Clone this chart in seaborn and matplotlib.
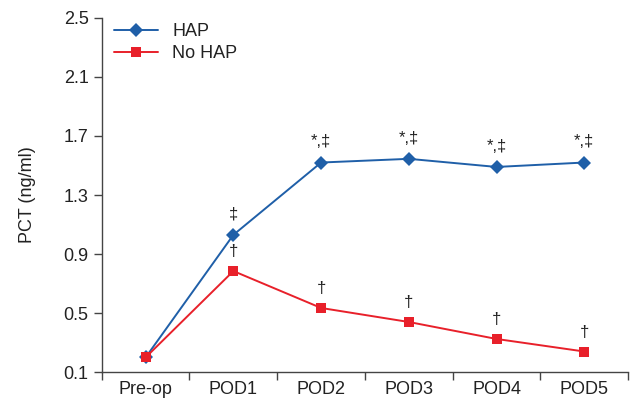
import pandas as pd
import numpy as np
import matplotlib
matplotlib.use("Agg")
import matplotlib.pyplot as plt
import seaborn as sns
from matplotlib.ticker import FixedLocator

# data
days = ["Pre-op", "POD1", "POD2", "POD3", "POD4", "POD5"]
hap = [0.20, 1.03, 1.52, 1.545, 1.49, 1.52]
no_hap = [0.20, 0.785, 0.535, 0.44, 0.325, 0.24]
hap_marks = ["", "\u2021", "*,\u2021", "*,\u2021", "*,\u2021", "*,\u2021"]
no_hap_marks = ["", "\u2020", "\u2020", "\u2020", "\u2020", "\u2020"]

df = pd.DataFrame({
    "day": days * 2,
    "pct": hap + no_hap,
    "group": ["HAP"] * len(days) + ["No HAP"] * len(days),
})

sns.set_style("ticks")
plt.rcParams["font.family"] = ["Liberation Sans", "DejaVu Sans"]

blue = "#1f5fa8"
red = "#e8202a"

fig = plt.figure(figsize=(6.32, 4.05), dpi=100)
ax = fig.add_axes([0.161, 0.081, 0.833, 0.875])

sns.lineplot(data=df, x="day", y="pct", hue="group", style="group",
             markers={"HAP": "D", "No HAP": "s"}, dashes=False,
             palette={"HAP": blue, "No HAP": red}, markersize=7,
             markeredgewidth=0, linewidth=1.4, ax=ax, sort=False)

# significance marks
for i in range(1, len(days)):
    ax.text(i, hap[i] + 0.09, hap_marks[i], ha="center", va="bottom",
            fontsize=12, color="#222222")
    ax.text(i, no_hap[i] + 0.08, no_hap_marks[i], ha="center", va="bottom",
            fontsize=12, color="#222222")

ax.set_xlim(-0.5, 5.5)
ax.set_ylim(0.1, 2.5)
ax.set_yticks([0.1, 0.5, 0.9, 1.3, 1.7, 2.1, 2.5])
ax.set_yticklabels(["0.1", "0.5", "0.9", "1.3", "1.7", "2.1", "2.5"])
ax.set_xticks(range(len(days)))
ax.set_xticklabels(days)
ax.xaxis.set_minor_locator(FixedLocator(np.arange(-0.5, 5.6, 1.0)))
ax.tick_params(axis="x", which="major", length=0, labelsize=13, pad=6, colors="#222222")
ax.tick_params(axis="x", which="minor", length=6, width=1, color="#444444")
ax.tick_params(axis="y", length=6, width=1, labelsize=13, color="#444444", labelcolor="#222222")
ax.set_xlabel("")
ax.set_ylabel("PCT (ng/ml)", fontsize=13, color="#222222", labelpad=20)

for s in ["top", "right"]:
    ax.spines[s].set_visible(False)
for s in ["left", "bottom"]:
    ax.spines[s].set_color("#444444")
    ax.spines[s].set_linewidth(1.0)

leg = ax.legend(loc="upper left", bbox_to_anchor=(0.0, 1.02), frameon=False,
                fontsize=13, handlelength=2.4, handletextpad=0.8,
                labelspacing=0.25, borderaxespad=0.3)
for t in leg.get_texts():
    t.set_color("#222222")

fig.savefig("out.png", dpi=100)
